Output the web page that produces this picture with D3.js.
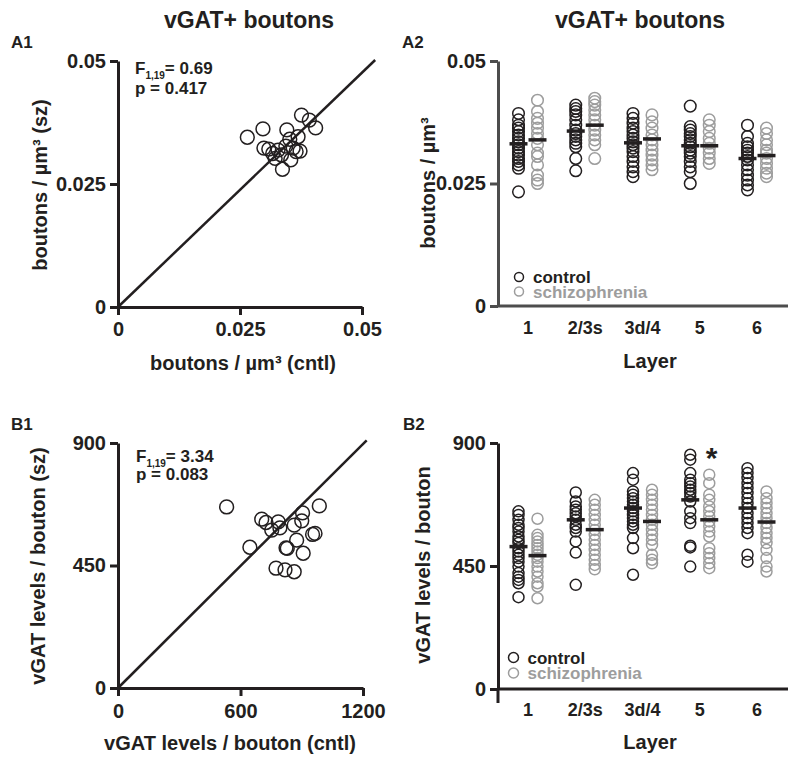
<!DOCTYPE html>
<html>
<head>
<meta charset="utf-8">
<script src="https://cdn.jsdelivr.net/npm/d3@7"></script>
<style>
body { margin: 0; background: #fff; }
svg text { font-family: 'Liberation Sans', Arial, Helvetica, sans-serif; font-weight: bold; fill: #231f20; }
</style>
</head>
<body>
<div id="chart"></div>
<script>
var layers = ['1', '2/3s', '3d/4', '5', '6'];
var densityTicks = [0, 0.025, 0.05];
var levelTicksY = [0, 450, 900];
var levelTicksX = [0, 600, 1200];

// A1 - bouton density per subject pair (control vs schizophrenia)
var densityCntl = [0.0265, 0.0297, 0.0376, 0.0392, 0.0405, 0.0346, 0.0352, 0.0369, 0.0299, 0.0309,
                   0.0317, 0.0322, 0.0335, 0.0337, 0.0354, 0.0359, 0.0365, 0.0373, 0.0344, 0.0328];
var densitySz = [0.0345, 0.0362, 0.0390, 0.0380, 0.0364, 0.0360, 0.0341, 0.0346, 0.0323, 0.0321,
                 0.0312, 0.0302, 0.0309, 0.0280, 0.0299, 0.0323, 0.0316, 0.0317, 0.0327, 0.0319];
var densityDiagonal = [[0, 0], [0.0527, 0.0502]];

// B1 - vGAT levels per bouton per subject pair
var levelCntl = [532, 704, 725, 753, 785, 793, 646, 863, 904, 900, 986, 953, 965, 875, 823, 829, 907, 774, 818, 863];
var levelSz = [665, 620, 608, 580, 610, 588, 517, 598, 643, 614, 669, 564, 568, 543, 515, 513, 495, 440, 434, 427];
var levelDiagonal = [[0, 0], [1218, 910]];

// A2 - density by layer
var densityControlByLayer = [
    [0.0393, 0.0380, 0.0369, 0.0363, 0.0356, 0.0349, 0.0342, 0.0335, 0.0329, 0.0322, 0.0315, 0.0308, 0.0301, 0.0295, 0.0288, 0.0281, 0.0233],
    [0.0410, 0.0403, 0.0397, 0.0390, 0.0380, 0.0369, 0.0359, 0.0352, 0.0346, 0.0339, 0.0332, 0.0325, 0.0301, 0.0276],
    [0.0393, 0.0383, 0.0373, 0.0363, 0.0356, 0.0349, 0.0342, 0.0335, 0.0329, 0.0322, 0.0315, 0.0305, 0.0295, 0.0284, 0.0274, 0.0264],
    [0.0408, 0.0366, 0.0359, 0.0352, 0.0346, 0.0339, 0.0332, 0.0325, 0.0318, 0.0312, 0.0305, 0.0295, 0.0284, 0.0274, 0.0250],
    [0.0369, 0.0346, 0.0332, 0.0325, 0.0318, 0.0312, 0.0305, 0.0298, 0.0288, 0.0278, 0.0267, 0.0257, 0.0247, 0.0237]
];
var densitySchizByLayer = [
    [0.0420, 0.0397, 0.0383, 0.0373, 0.0363, 0.0352, 0.0342, 0.0329, 0.0312, 0.0305, 0.0288, 0.0267, 0.0257, 0.0250],
    [0.0424, 0.0417, 0.0410, 0.0400, 0.0390, 0.0380, 0.0369, 0.0359, 0.0349, 0.0339, 0.0329, 0.0301],
    [0.0390, 0.0376, 0.0363, 0.0349, 0.0339, 0.0329, 0.0318, 0.0308, 0.0298, 0.0288, 0.0278],
    [0.0380, 0.0369, 0.0356, 0.0342, 0.0332, 0.0322, 0.0312, 0.0301, 0.0291],
    [0.0363, 0.0352, 0.0339, 0.0329, 0.0318, 0.0312, 0.0301, 0.0291, 0.0281, 0.0271, 0.0264]
];
var densityControlMeans = [0.0331, 0.0357, 0.0333, 0.0327, 0.0301];
var densitySchizMeans = [0.0339, 0.0369, 0.0341, 0.0327, 0.0307];

// B2 - vGAT levels by layer
var levelControlByLayer = [
    [650, 637, 619, 601, 589, 576, 558, 546, 534, 515, 503, 491, 479, 466, 448, 424, 411, 399, 387, 336],
    [719, 686, 668, 656, 643, 631, 619, 601, 589, 576, 540, 499, 381],
    [790, 766, 723, 711, 698, 686, 674, 662, 650, 637, 625, 613, 601, 589, 552, 515, 418],
    [857, 839, 790, 766, 753, 741, 729, 717, 704, 686, 650, 625, 607, 524, 518, 448],
    [808, 790, 772, 753, 735, 717, 698, 680, 662, 643, 625, 607, 589, 570, 491, 466]
];
var levelSchizByLayer = [
    [623, 564, 552, 540, 527, 515, 503, 491, 479, 466, 448, 430, 411, 387, 375, 332],
    [692, 674, 656, 637, 619, 601, 582, 564, 546, 527, 509, 491, 473, 454, 438],
    [729, 711, 692, 674, 656, 637, 619, 601, 582, 564, 546, 527, 491, 473, 460],
    [784, 753, 711, 692, 668, 650, 631, 613, 595, 576, 558, 515, 497, 479, 460, 442],
    [723, 698, 680, 662, 643, 625, 607, 589, 570, 552, 534, 509, 479, 448, 430]
];
var levelControlMeans = [521, 619, 662, 692, 662];
var levelSchizMeans = [488, 583, 613, 619, 611];

var BLACK = '#231f20';
var GRAY = '#9d9d9d';

var svg = d3.select('#chart').append('svg')
    .attr('width', 800)
    .attr('height', 765);

function styleAxis(axisG, color, fontSize) {
    axisG.select('.domain').attr('stroke', color).attr('stroke-width', 3);
    axisG.selectAll('.tick line').attr('stroke', color).attr('stroke-width', 3);
    axisG.selectAll('.tick text')
        .attr('fill', BLACK)
        .style('font-size', fontSize + 'px')
        .style('font-family', "'Liberation Sans', Arial, sans-serif")
        .style('font-weight', 'bold');
}

function addText(x, y, str, size, opts) {
    opts = opts || {};
    var t = svg.append('text')
        .attr('x', x)
        .attr('y', y)
        .attr('text-anchor', opts.anchor || 'middle')
        .style('font-size', size + 'px')
        .text(str);
    if (opts.rotate) {
        t.attr('transform', 'rotate(-90,' + x + ',' + y + ')');
    }
    if (opts.fill) {
        t.style('fill', opts.fill);
    }
    return t;
}

function addStat(x, y1, y2, fValue, pValue) {
    var t = svg.append('text').attr('x', x).attr('y', y1).style('font-size', '17px');
    t.append('tspan').text('F');
    t.append('tspan').attr('dy', 5).style('font-size', '10px').text('1,19');
    t.append('tspan').attr('dy', -5).text('= ' + fValue);
    addText(x, y2, 'p = ' + pValue, 17, { anchor: 'start' });
}

function scatterPanel(cfg) {
    var x = d3.scaleLinear().domain(cfg.xDomain).range(cfg.xRange);
    var y = d3.scaleLinear().domain(cfg.yDomain).range(cfg.yRange);
    var g = svg.append('g');

    var yAxis = g.append('g')
        .attr('transform', 'translate(' + cfg.xRange[0] + ',0)')
        .call(d3.axisLeft(y).tickValues(cfg.yTicks).tickSize(8).tickSizeOuter(0).tickPadding(4).tickFormat(String));
    styleAxis(yAxis, BLACK, 20);

    var xAxis = g.append('g')
        .attr('transform', 'translate(0,' + cfg.yRange[0] + ')')
        .call(d3.axisBottom(x).tickValues(cfg.xTicks).tickSize(8).tickSizeOuter(0).tickPadding(cfg.xPad).tickFormat(String));
    styleAxis(xAxis, BLACK, 20);

    var line = d3.line()
        .x(function(d) { return x(d[0]); })
        .y(function(d) { return y(d[1]); });
    g.append('path')
        .datum(cfg.diagonal)
        .attr('fill', 'none')
        .attr('stroke', BLACK)
        .attr('stroke-width', 2.5)
        .attr('d', line);

    g.selectAll('circle.pt')
        .data(d3.zip(cfg.xs, cfg.ys))
        .enter().append('circle')
        .attr('class', 'pt')
        .attr('cx', function(d) { return x(d[0]); })
        .attr('cy', function(d) { return y(d[1]); })
        .attr('r', 6.9)
        .attr('fill', 'none')
        .attr('stroke', BLACK)
        .attr('stroke-width', 1.5);
}

function layerPanel(cfg) {
    var x = d3.scalePoint().domain(layers).range([528, 757]);
    var y = d3.scaleLinear().domain(cfg.yDomain).range(cfg.yRange);
    var g = svg.append('g');
    var off = 9.5;

    var yAxis = g.append('g')
        .attr('transform', 'translate(498,0)')
        .call(d3.axisLeft(y).tickValues(cfg.yTicks).tickSize(8).tickSizeOuter(0).tickPadding(4).tickFormat(String));
    styleAxis(yAxis, cfg.axisColor, 20);

    g.append('line')
        .attr('x1', 498).attr('x2', 788)
        .attr('y1', y(0)).attr('y2', y(0))
        .attr('stroke', cfg.axisColor)
        .attr('stroke-width', 3);
    if (cfg.axisTail) {
        g.append('line')
            .attr('x1', 498).attr('x2', 498)
            .attr('y1', y(0)).attr('y2', y(0) + cfg.axisTail)
            .attr('stroke', cfg.axisColor)
            .attr('stroke-width', 3);
    }

    layers.forEach(function(layer, i) {
        var groups = [
            { vals: cfg.control[i], mean: cfg.controlMeans[i], cx: x(layer) - off, color: BLACK },
            { vals: cfg.schiz[i], mean: cfg.schizMeans[i], cx: x(layer) + off, color: GRAY }
        ];
        groups.forEach(function(grp) {
            g.selectAll(null)
                .data(grp.vals)
                .enter().append('circle')
                .attr('cx', grp.cx)
                .attr('cy', function(d) { return y(d); })
                .attr('r', cfg.r)
                .attr('fill', 'none')
                .attr('stroke', grp.color)
                .attr('stroke-width', 1.5);
        });
        groups.forEach(function(grp) {
            g.append('line')
                .attr('x1', grp.cx - 9).attr('x2', grp.cx + 9)
                .attr('y1', y(grp.mean)).attr('y2', y(grp.mean))
                .attr('stroke', BLACK)
                .attr('stroke-width', 3.5);
        });
        addText(x(layer), y(0) + cfg.labelDy, layer, 18);
    });

    // legend
    var lg = cfg.legend;
    [[ 'control', BLACK ], [ 'schizophrenia', GRAY ]].forEach(function(item, i) {
        var cy = lg.y + i * lg.step;
        g.append('circle')
            .attr('cx', lg.x).attr('cy', cy).attr('r', lg.r)
            .attr('fill', 'none').attr('stroke', item[1]).attr('stroke-width', 1.5);
        addText(lg.x + 14, cy + 6, item[0], 17, { anchor: 'start', fill: item[1] });
    });
    return y;
}

// ---- A1 ----
scatterPanel({
    xDomain: [0, 0.05], xRange: [118, 362],
    yDomain: [0, 0.05], yRange: [307, 61],
    xTicks: densityTicks, yTicks: densityTicks, xPad: 7,
    xs: densityCntl, ys: densitySz, diagonal: densityDiagonal
});
addText(249, 28, 'vGAT+ boutons', 23);
addText(11, 48, 'A1', 17, { anchor: 'start' });
addStat(135, 74, 94, '0.69', '0.417');
addText(47, 185, 'boutons / µm³ (sz)', 20, { rotate: true });
addText(243, 370, 'boutons / µm³ (cntl)', 20);

// ---- B1 ----
scatterPanel({
    xDomain: [0, 1200], xRange: [118, 363],
    yDomain: [0, 900], yRange: [688, 443],
    xTicks: levelTicksX, yTicks: levelTicksY, xPad: 8,
    xs: levelCntl, ys: levelSz, diagonal: levelDiagonal
});
addText(11, 430, 'B1', 17, { anchor: 'start' });
addStat(136, 462, 480, '3.34', '0.083');
addText(45, 566, 'vGAT levels / bouton (sz)', 20, { rotate: true });
addText(230, 750, 'vGAT levels / bouton (cntl)', 20);

// ---- A2 ----
layerPanel({
    yDomain: [0, 0.05], yRange: [306, 61], yTicks: densityTicks,
    axisColor: '#4d4d4d', axisTail: 0, r: 5.8, labelDy: 28,
    control: densityControlByLayer, schiz: densitySchizByLayer,
    controlMeans: densityControlMeans, schizMeans: densitySchizMeans,
    legend: { x: 519, y: 277, step: 14.5, r: 4.5 }
});
addText(640, 28, 'vGAT+ boutons', 23);
addText(402, 48, 'A2', 17, { anchor: 'start' });
addText(435, 183, 'boutons / µm³', 20, { rotate: true });
addText(650, 368, 'Layer', 20);

// ---- B2 ----
var yB2 = layerPanel({
    yDomain: [0, 900], yRange: [689, 443], yTicks: levelTicksY,
    axisColor: BLACK, axisTail: 14, r: 5.5, labelDy: 27,
    control: levelControlByLayer, schiz: levelSchizByLayer,
    controlMeans: levelControlMeans, schizMeans: levelSchizMeans,
    legend: { x: 513.5, y: 657.5, step: 15.5, r: 5 }
});
addText(403, 430, 'B2', 17, { anchor: 'start' });
addText(430, 565, 'vGAT levels / bouton', 20, { rotate: true });
addText(650, 749, 'Layer', 20);
// significance mark over layer 5 schizophrenia
addText(711.5, yB2(870) + 17, '*', 30);
</script>
</body>
</html>
